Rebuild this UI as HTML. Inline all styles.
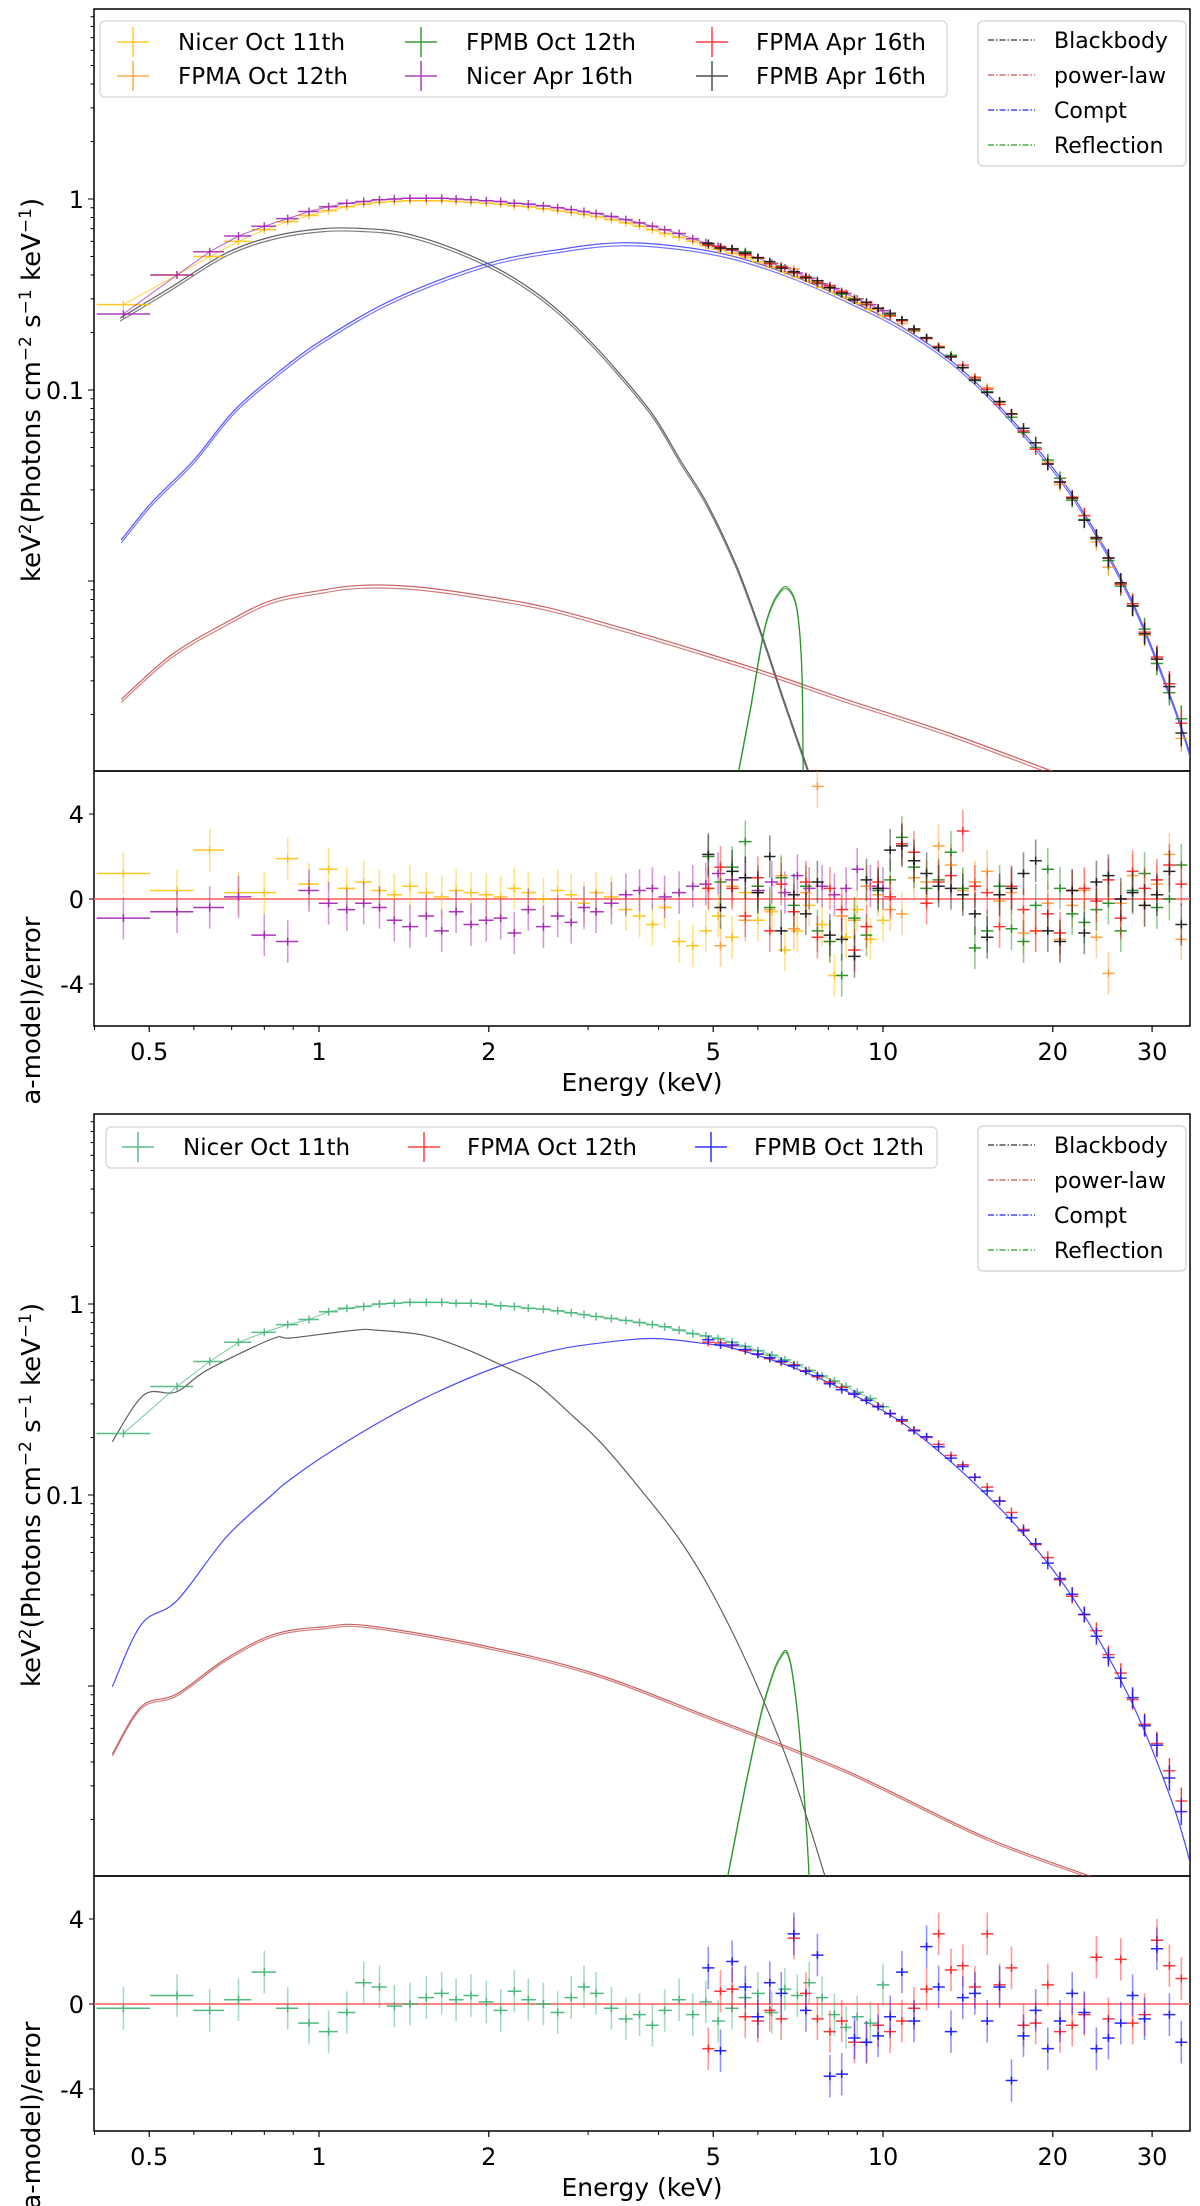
<!DOCTYPE html>
<html><head><meta charset="utf-8"><style>
html,body{margin:0;padding:0;background:#fff;}
svg{display:block;font-family:"DejaVu Sans","Liberation Sans",sans-serif;}
</style></head><body>
<svg id="fig" width="1200" height="2206" viewBox="0 0 1200 2206" xmlns="http://www.w3.org/2000/svg">
<defs>
<clipPath id="clipTopLabel"><rect x="0" y="0" width="90" height="1103"/></clipPath>
<clipPath id="clipMain0"><rect x="94" y="9" width="1096" height="762"/></clipPath>
<clipPath id="clipRes0"><rect x="94" y="771" width="1096" height="255"/></clipPath>
<clipPath id="clipMain1"><rect x="94" y="1114" width="1096" height="762"/></clipPath>
<clipPath id="clipRes1"><rect x="94" y="1876" width="1096" height="255"/></clipPath>
</defs>
<g id="layer"></g>
</svg>
<script>
// ---------- shared energy grids ----------
const nicerE = [0.45,0.56,0.64,0.72,0.80,0.88,0.96,1.04,1.12,1.20,1.28,1.36,1.45,1.55,1.65,1.75,1.86,1.98,2.1,2.22,2.35,2.5,2.65,2.8,2.95,3.1,3.3,3.5,3.7,3.9,4.1,4.35,4.6,4.85,5.1,5.4,5.7,6.0,6.35,6.7,7.05,7.4,7.8,8.2,8.6,9.0,9.5,10.0];
const nuE = [4.9,5.15,5.4,5.7,6.0,6.3,6.6,6.95,7.3,7.65,8.05,8.45,8.9,9.35,9.8,10.3,10.8,11.35,11.95,12.55,13.2,13.85,14.55,15.3,16.1,16.9,17.75,18.65,19.6,20.6,21.65,22.75,23.9,25.1,26.4,27.7,29.1,30.6,32.2,33.8];

// ---------- top figure: data ----------
const topNicerOctV = [0.28,0.40,0.50,0.60,0.69,0.76,0.82,0.87,0.91,0.94,0.96,0.97,0.98,0.98,0.98,0.97,0.96,0.95,0.94,0.92,0.91,0.89,0.87,0.85,0.83,0.81,0.78,0.75,0.72,0.69,0.66,0.63,0.60,0.57,0.545,0.52,0.495,0.47,0.44,0.415,0.39,0.37,0.345,0.325,0.305,0.285,0.265,0.245];
const topNicerAprV = [0.25,0.40,0.53,0.64,0.72,0.79,0.86,0.91,0.95,0.97,0.99,1.0,1.01,1.01,1.01,1.0,0.99,0.98,0.97,0.95,0.94,0.92,0.90,0.88,0.86,0.84,0.81,0.78,0.75,0.72,0.69,0.66,0.62,0.59,0.565,0.54,0.515,0.49,0.46,0.435,0.41,0.385,0.36,0.34,0.32,0.30,0.28,0.26];
const topFpmaOctV = [0.575,0.545,0.545,0.51,0.49,0.462,0.445,0.43,0.385,0.372,0.345,0.328,0.302,0.287,0.266,0.243,0.223,0.203,0.187,0.17,0.15,0.131,0.117,0.103,0.086,0.075,0.06,0.049,0.042,0.032,0.027,0.022,0.016,0.0118,0.0097,0.0076,0.0052,0.0039,0.0029,0.0015];
const topFpmbOctV = [0.585,0.56,0.55,0.53,0.492,0.46,0.445,0.412,0.392,0.362,0.343,0.318,0.3,0.28,0.267,0.248,0.232,0.205,0.186,0.167,0.152,0.131,0.112,0.098,0.087,0.072,0.06,0.05,0.043,0.0345,0.0265,0.021,0.0166,0.0128,0.0094,0.0074,0.0056,0.0037,0.0026,0.0019];
const topFpmaAprV = [0.572,0.562,0.542,0.51,0.494,0.458,0.442,0.412,0.393,0.364,0.352,0.328,0.297,0.281,0.268,0.245,0.23,0.207,0.186,0.168,0.149,0.135,0.116,0.101,0.084,0.075,0.061,0.049,0.041,0.033,0.0275,0.022,0.0168,0.0132,0.0096,0.0076,0.0054,0.004,0.0029,0.0018];
const topFpmbAprV = [0.585,0.553,0.548,0.52,0.492,0.47,0.435,0.416,0.387,0.373,0.344,0.322,0.296,0.288,0.268,0.252,0.233,0.209,0.188,0.167,0.149,0.131,0.113,0.097,0.087,0.075,0.063,0.053,0.041,0.033,0.0272,0.0208,0.0169,0.0132,0.0098,0.0074,0.0053,0.0039,0.0028,0.0016];
// residuals (top)
const topNicerOctR = [1.2,0.4,2.3,0.3,0.3,1.9,0.7,1.4,0.5,0.8,0.4,0.2,0.6,0.3,0.1,0.4,0.3,0.2,0.1,0.5,0.3,0.0,0.4,0.2,-0.2,0.3,0.1,-0.5,-0.8,-1.2,-0.4,-2.0,-2.2,-1.5,-0.8,-1.8,0.3,-1.0,-0.6,-2.4,-1.5,-0.3,-1.2,-3.6,-1.8,-0.5,-1.9,-1.0];
const topNicerAprR = [-0.9,-0.6,-0.4,0.1,-1.7,-2.0,0.4,-0.2,-0.5,-0.2,-0.4,-1.0,-1.3,-0.8,-1.5,-0.6,-1.2,-1.0,-0.9,-1.6,-0.5,-1.3,-0.8,-1.1,-0.4,-0.6,-0.2,0.2,0.4,0.5,0.1,0.3,0.6,0.7,1.2,0.9,1.0,0.4,0.8,0.3,1.1,0.5,0.6,0.2,0.5,1.4,0.6,0.5];
const topFpmaOctR = [0.5,-2.2,0.6,-1.0,0.3,-0.5,1.1,-1.4,0.3,5.3,-2.0,-0.8,-1.0,0.6,0.2,-0.5,-0.7,1.0,0.8,2.5,1.6,0.4,0.8,1.3,-0.1,0.3,-1.6,-1.5,-0.2,-1.9,-0.3,0.4,-1.8,-3.5,-0.2,1.1,-0.3,0.7,2.1,-1.9];
const topFpmbOctR = [2.0,0.8,1.5,2.7,0.6,-0.4,1.0,-0.3,0.6,-1.5,-2.0,-3.6,-0.9,-1.7,0.4,0.9,2.9,1.5,0.5,0.9,2.2,0.5,-2.3,-1.5,0.6,-1.4,-2.0,-0.3,1.4,0.5,-0.7,-1.1,-0.5,-0.2,-1.5,0.4,1.2,-0.4,0.0,1.6];
const topFpmaAprR = [0.5,1.5,0.5,-0.8,1.0,-1.5,0.7,-0.6,0.8,-1.8,0.5,-0.5,-2.4,-1.3,0.8,0.1,2.6,2.2,-0.2,0.8,1.1,3.2,0.6,0.3,-1.3,0.6,-0.5,-1.5,-0.7,-1.6,0.4,0.5,-0.1,0.9,-0.9,1.3,0.5,0.9,1.6,0.7];
const topFpmbAprR = [2.1,-0.4,1.3,1.0,0.3,2.0,-1.5,0.2,-0.7,0.8,-1.7,-1.9,-2.7,0.9,0.5,2.3,2.5,1.8,1.2,0.6,0.5,0.2,-0.7,-1.8,0.2,0.5,1.2,1.8,-1.5,-2.0,0.4,-1.6,0.8,1.1,0.0,0.3,-0.3,0.2,1.3,-1.2];
// models (top)
const topBbE = [0.444,0.542,0.684,0.835,1.02,1.2,1.39,1.65,1.99,2.3,2.62,3.0,3.37,3.9,4.37,4.87,5.5,6.12,6.7,7.37];
const topBbV = [0.238,0.34,0.52,0.64,0.70,0.70,0.67,0.58,0.46,0.36,0.27,0.185,0.127,0.075,0.043,0.0256,0.012,0.0051,0.0023,0.00102];
const topComptE = [0.446,0.504,0.60,0.707,0.856,1.02,1.36,1.99,2.73,3.43,4.33,5.44,6.86,8.6,10.9,13.7,17.3,21.7,27.3,32.5,35.5];
const topComptV = [0.0164,0.0256,0.043,0.078,0.127,0.185,0.30,0.46,0.55,0.59,0.565,0.50,0.40,0.30,0.21,0.13,0.065,0.028,0.0085,0.0024,0.0011];
const topPlE = [0.446,0.547,0.687,0.822,1.0,1.19,1.5,2.04,2.57,3.5,4.85,6.48,8.6,13.1,20.5];
const topPlV = [0.0024,0.0041,0.0061,0.0079,0.0089,0.0095,0.0093,0.0082,0.0072,0.0056,0.0042,0.0032,0.0024,0.0016,0.00098];
const topReflE = [5.5,5.81,6.12,6.30,6.5,6.75,7.03,7.18,7.22];
const topReflV = [0.0009,0.0021,0.0051,0.007,0.0085,0.0093,0.0073,0.0034,0.0009];

// ---------- bottom figure: data ----------
const botNicerV = [0.21,0.37,0.50,0.63,0.71,0.78,0.83,0.91,0.95,0.97,1.0,1.01,1.02,1.02,1.02,1.01,1.01,1.0,0.98,0.97,0.95,0.94,0.92,0.90,0.88,0.86,0.84,0.82,0.80,0.78,0.76,0.73,0.70,0.68,0.66,0.63,0.60,0.57,0.54,0.51,0.48,0.45,0.42,0.395,0.37,0.345,0.32,0.29];
const botFpmaV = [0.63,0.625,0.605,0.57,0.545,0.518,0.497,0.48,0.447,0.416,0.39,0.366,0.338,0.314,0.292,0.266,0.243,0.219,0.2,0.184,0.161,0.144,0.124,0.11,0.093,0.081,0.066,0.055,0.047,0.036,0.0295,0.0236,0.0195,0.0146,0.0117,0.0085,0.0063,0.005,0.0036,0.0025];
const botFpmbV = [0.65,0.61,0.61,0.578,0.547,0.523,0.502,0.476,0.444,0.422,0.382,0.356,0.338,0.313,0.29,0.267,0.248,0.217,0.202,0.179,0.156,0.141,0.124,0.105,0.093,0.076,0.065,0.0555,0.044,0.0365,0.0302,0.0237,0.0182,0.0141,0.011,0.0087,0.0062,0.0049,0.0033,0.0022];
const botNicerR = [-0.2,0.4,-0.3,0.2,1.5,-0.2,-0.9,-1.3,-0.4,1.0,0.8,-0.1,0.0,0.3,0.5,0.2,0.4,0.1,-0.3,0.6,0.2,0.0,-0.4,0.3,0.8,0.5,-0.2,-0.7,-0.5,-1.0,-0.3,0.2,-0.5,0.1,-0.8,-0.2,0.3,0.5,-0.4,0.7,0.4,1.0,0.3,-0.5,-1.1,-0.6,-0.9,0.9];
const botFpmaR = [-2.1,0.6,0.7,-0.6,-0.8,-0.3,-0.7,3.1,0.5,-0.7,-1.3,-0.8,-1.8,-1.8,-1.0,-1.3,-0.8,-0.2,0.7,3.3,1.6,1.8,0.8,3.3,0.9,1.7,-1.0,-0.9,0.9,-1.3,-1.0,-0.5,2.2,-0.7,2.1,-0.9,-0.5,3.0,1.8,1.2];
const botFpmbR = [1.7,-2.2,2.0,0.8,-0.6,1.0,0.5,3.3,-0.3,2.3,-3.4,-3.3,-1.6,-1.8,-1.5,-0.6,1.5,-0.8,2.7,0.8,-1.3,0.3,0.5,-0.8,0.8,-3.6,-1.5,-0.3,-2.1,-0.8,0.5,-0.4,-2.1,-1.6,-0.9,0.4,-0.7,2.6,-0.5,-1.8];
const botBbE = [0.43,0.489,0.558,0.633,0.825,0.892,1.16,1.26,1.52,1.77,2.07,2.42,2.83,3.15,3.6,4.33,5.0,5.9,6.9,7.9];
const botBbV = [0.19,0.334,0.346,0.45,0.656,0.664,0.73,0.73,0.69,0.60,0.49,0.385,0.256,0.19,0.12,0.06,0.03,0.011,0.0035,0.001];
const botComptE = [0.43,0.484,0.56,0.684,0.825,0.877,1.02,1.3,1.6,2.07,2.6,3.15,3.9,4.85,5.44,6.86,8.6,10.9,13.7,17.3,21.7,27.3,32.5,35.3];
const botComptV = [0.0099,0.021,0.028,0.06,0.10,0.117,0.16,0.247,0.34,0.468,0.57,0.625,0.66,0.62,0.585,0.47,0.35,0.235,0.135,0.068,0.029,0.0088,0.0025,0.0011];
const botPlE = [0.43,0.484,0.56,0.684,0.835,1.02,1.22,1.93,3.06,4.85,8.6,15.3,25.0];
const botPlV = [0.0044,0.0078,0.0091,0.0139,0.0187,0.0204,0.0207,0.0164,0.0117,0.0070,0.0036,0.0016,0.00094];
const botReflE = [5.3,5.7,6.1,6.4,6.6,6.75,6.9,7.1,7.3,7.4];
const botReflV = [0.001,0.003,0.0075,0.012,0.0145,0.0152,0.012,0.006,0.002,0.001];

// tick labels
const xTickVals = [0.5,1,2,5,10,20,30];
const xTickLabels = ["0.5","1","2","5","10","20","30"];
const xMinorVals = [0.4,0.6,0.7,0.8,0.9,3,4,6,7,8,9];
const yTickVals = [1,0.1];
const yTickLabels = ["1","0.1"];
const rTickVals = [4,0,-4];
const rTickLabels = ["4","0","-4"];

// ---------- axis functions ----------
const L = 94, R = 1190;
function xs(E){ return 319 + 564*Math.log10(E); }
function ym(v, off){ return off + 199 - 191*Math.log10(v); }
function yr(r, off){ return off + 899 - 21.25*r; }

const NS = "http://www.w3.org/2000/svg";
const layer = document.getElementById('layer');
function el(tag, attrs, parent){
  const e = document.createElementNS(NS, tag);
  for (const k in attrs) e.setAttribute(k, attrs[k]);
  (parent||layer).appendChild(e);
  return e;
}
function bounds(E, i){
  const lo = i>0 ? Math.sqrt(E[i-1]*E[i]) : E[i]*E[i]/Math.sqrt(E[i]*E[i+1]);
  const hi = i<E.length-1 ? Math.sqrt(E[i]*E[i+1]) : E[i]*E[i]/Math.sqrt(E[i-1]*E[i]);
  return [lo, hi];
}
function smoothPath(P){
  let d = `M${P[0][0].toFixed(1)},${P[0][1].toFixed(1)}`;
  for (let i=0;i<P.length-1;i++){
    const p0 = P[Math.max(0,i-1)], p1 = P[i], p2 = P[i+1], p3 = P[Math.min(P.length-1,i+2)];
    const c1x = p1[0]+(p2[0]-p0[0])/6, c1y = p1[1]+(p2[1]-p0[1])/6;
    const c2x = p2[0]-(p3[0]-p1[0])/6, c2y = p2[1]-(p3[1]-p1[1])/6;
    d += `C${c1x.toFixed(1)},${c1y.toFixed(1)} ${c2x.toFixed(1)},${c2y.toFixed(1)} ${p2[0].toFixed(1)},${p2[1].toFixed(1)}`;
  }
  return d;
}
function drawModel(g, E, V, off, color, name, shift){
  const P = E.map((e,i)=> [xs(e), ym(V[i],off)]);
  const d = smoothPath(P);
  const p = el('path', {d: d, fill:'none', stroke: color, 'stroke-width': 1.2, opacity: 0.85}, g);
  
  
  if (shift){
    const p2 = el('path', {d: d, fill:'none', stroke: color, 'stroke-width': 1.2, opacity: 0.7, transform:'translate(0,'+shift+')'}, g);
    
    
  }
}
function drawData(g, E, V, off, color, name, connect){
  const grp = el('g', {}, g);
  
  
  if (connect){
    const pts = E.map((e,i)=> xs(e).toFixed(1)+','+ym(V[i],off).toFixed(1)).join(' ');
    el('polyline', {points: pts, fill:'none', stroke: color, 'stroke-width': 1, opacity: 0.7}, grp);
  }
  E.forEach((e,i)=>{
    const [lo,hi] = bounds(E,i);
    const y = ym(V[i],off), x = xs(e);
    const ev = 4 + (e>15 ? (e-15)*0.5 : 0);
    const c = el('path', {d:`M${xs(lo).toFixed(1)},${y.toFixed(1)}H${xs(hi).toFixed(1)}M${x.toFixed(1)},${(y-ev).toFixed(1)}V${(y+ev).toFixed(1)}`, stroke: color, 'stroke-width': 1.5, fill:'none', opacity: 0.85}, grp);
    
    
  });
}
function drawRes(g, E, Rv, off, color, name){
  const grp = el('g', {}, g);
  
  
  E.forEach((e,i)=>{
    const [lo,hi] = bounds(E,i);
    const y = yr(Rv[i],off), x = xs(e);
    el('path', {d:`M${x.toFixed(1)},${yr(Rv[i]+1,off).toFixed(1)}V${yr(Rv[i]-1,off).toFixed(1)}`, stroke: color, 'stroke-width': 1.6, opacity: 0.45}, grp);
    const c = el('path', {d:`M${xs(lo).toFixed(1)},${y.toFixed(1)}H${xs(hi).toFixed(1)}M${x.toFixed(1)},${(y-4).toFixed(1)}V${(y+4).toFixed(1)}`, stroke: color, 'stroke-width': 1.5, opacity: 0.9}, grp);
    
    
  });
}
function axes(off, idx){
  const g = el('g', {});
  
  
  const fm = el('rect', {x:L, y:off+9, width:R-L, height:762, fill:'none', stroke:'#000', 'stroke-width':1.5}, g);
  
  
  const fr = el('rect', {x:L, y:off+771, width:R-L, height:255, fill:'none', stroke:'#000', 'stroke-width':1.5}, g);
  
  
  xTickVals.forEach((v,i)=>{
    el('line', {x1:xs(v), x2:xs(v), y1:off+1026, y2:off+1032, stroke:'#000', 'stroke-width':1.2}, g);
    const t = el('text', {x:xs(v), y:off+1060, 'font-size':24, 'text-anchor':'middle', fill:'#000'}, g);
    t.textContent = xTickLabels[i];
    
    
  });
  xMinorVals.forEach(v=>{
    el('line', {x1:xs(v), x2:xs(v), y1:off+1026, y2:off+1030, stroke:'#000', 'stroke-width':1}, g);
  });
  for (let d=-3; d<=0; d++){
    for (let k=1; k<=9; k++){
      const v = k*Math.pow(10,d);
      const y = ym(v,off);
      if (y < off+9 || y > off+771) continue;
      const major = (k===1);
      el('line', {x1:L-(major?6:3.5), x2:L, y1:y, y2:y, stroke:'#000', 'stroke-width':1}, g);
    }
  }
  yTickVals.forEach((v,i)=>{
    const t = el('text', {x:L-10, y:ym(v,off)+9, 'font-size':24, 'text-anchor':'end', fill:'#000'}, g);
    t.textContent = yTickLabels[i];
    
    
  });
  rTickVals.forEach((v,i)=>{
    el('line', {x1:L-5, x2:L, y1:yr(v,off), y2:yr(v,off), stroke:'#000', 'stroke-width':1}, g);
    const t = el('text', {x:L-10, y:yr(v,off)+9, 'font-size':24, 'text-anchor':'end', fill:'#000'}, g);
    t.textContent = rTickLabels[i];
    
    
  });
  const z = el('line', {x1:L, x2:R, y1:yr(0,off), y2:yr(0,off), stroke:'#ff7070', 'stroke-width':1.8}, g);
  
  
  const xl = el('text', {x:642, y:off+1091, 'font-size':25, 'text-anchor':'middle', fill:'#000'}, g);
  xl.textContent = 'Energy (keV)';
  
  
  const yl = el('text', {transform:`translate(40,${off+390}) rotate(-90)`, 'font-size':26, 'text-anchor':'middle', fill:'#000'}, g);
  yl.innerHTML = 'keV<tspan dy="-9" font-size="17">2</tspan><tspan dy="9">(Photons cm</tspan><tspan dy="-9" font-size="17">−2</tspan><tspan dy="9"> s</tspan><tspan dy="-9" font-size="17">−1</tspan><tspan dy="9"> keV</tspan><tspan dy="-9" font-size="17">−1</tspan><tspan dy="9">)</tspan>';
  
  
  const rg = el('g', idx===0 ? {'clip-path':'url(#clipTopLabel)'} : {}, g);
  const rl = el('text', {transform:`translate(40,${off+1037}) rotate(-90)`, 'font-size':26, 'text-anchor':'middle', fill:'#000'}, rg);
  rl.textContent = '(data-model)/error';
  
  
}
function legendData(off, x, y, w, h, entries){
  const g = el('g', {});
  
  
  el('rect', {x:x, y:off+y, width:w, height:h, rx:5, fill:'#fff', stroke:'#d8d8d8', 'stroke-width':1.5, opacity:0.9}, g);
  entries.forEach(en=>{
    const eg = el('g', {}, g);
    
    
    const cy = off+en[2];
    el('path', {d:`M${en[1]-16},${cy}H${en[1]+16}M${en[1]},${cy-15}V${cy+15}`, stroke:en[3], 'stroke-width':1.5, opacity:0.85}, eg);
    const t = el('text', {x:en[4], y:cy+8, 'font-size':23, fill:'#000'}, eg);
    t.textContent = en[0];
  });
}
function legendModel(off){
  const g = el('g', {});
  
  
  el('rect', {x:978, y:off+21, width:208, height:145, rx:5, fill:'#fff', stroke:'#d8d8d8', 'stroke-width':1.5}, g);
  const items = [['Blackbody','#333'],['power-law','#c85050'],['Compt','#2020ff'],['Reflection','#2a9a2a']];
  items.forEach((it,i)=>{
    const eg = el('g', {}, g);
    
    
    const cy = off+40+i*35;
    el('line', {x1:988, x2:1035, y1:cy, y2:cy, stroke:it[1], 'stroke-width':1.3, 'stroke-dasharray':'6,2,1.5,2'}, eg);
    const t = el('text', {x:1054, y:cy+8, 'font-size':22, fill:'#000'}, eg);
    t.textContent = it[0];
  });
}

// ---------- TOP FIGURE ----------
(function(){
  const off = 0;
  axes(off, 0);
  const gm = el('g', {'clip-path':'url(#clipMain0)'});
  
  
  drawModel(gm, topBbE, topBbV, off, '#444', 'blackbody-model', 3);
  drawModel(gm, topComptE, topComptV, off, '#3a3aff', 'compt-model', 3);
  drawModel(gm, topPlE, topPlV, off, '#c04848', 'power-law-model', 3);
  drawModel(gm, topReflE, topReflV, off, '#1f8f1f', 'reflection-model', 2);
  drawData(gm, nicerE, topNicerOctV, off, '#ffc107', 'nicer-oct11', true);
  drawData(gm, nicerE, topNicerAprV, off, '#a020b0', 'nicer-apr16', true);
  drawData(gm, nuE, topFpmaOctV, off, '#ff9a30', 'fpma-oct12', false);
  drawData(gm, nuE, topFpmbOctV, off, '#1a8a1a', 'fpmb-oct12', false);
  drawData(gm, nuE, topFpmaAprV, off, '#ff2020', 'fpma-apr16', false);
  drawData(gm, nuE, topFpmbAprV, off, '#111', 'fpmb-apr16', false);
  const gr = el('g', {'clip-path':'url(#clipRes0)'});
  
  
  drawRes(gr, nicerE, topNicerOctR, off, '#ffc107', 'nicer-oct11-residuals');
  drawRes(gr, nicerE, topNicerAprR, off, '#a020b0', 'nicer-apr16-residuals');
  drawRes(gr, nuE, topFpmaOctR, off, '#ff9a30', 'fpma-oct12-residuals');
  drawRes(gr, nuE, topFpmbOctR, off, '#1a8a1a', 'fpmb-oct12-residuals');
  drawRes(gr, nuE, topFpmaAprR, off, '#ff2020', 'fpma-apr16-residuals');
  drawRes(gr, nuE, topFpmbAprR, off, '#111', 'fpmb-apr16-residuals');
  legendData(off, 100, 21, 847, 76, [
    ['Nicer Oct 11th',133,42,'#ffc107',178],
    ['FPMA Oct 12th',133,76,'#ff9a30',178],
    ['FPMB Oct 12th',421,42,'#1a8a1a',466],
    ['Nicer Apr 16th',421,76,'#a020b0',466],
    ['FPMA  Apr 16th',712,42,'#ff2020',756],
    ['FPMB Apr 16th',712,76,'#333',756]
  ]);
  legendModel(off);
})();

// ---------- BOTTOM FIGURE ----------
(function(){
  const off = 1105;
  axes(off, 1);
  const gm = el('g', {'clip-path':'url(#clipMain1)'});
  
  
  drawModel(gm, botBbE, botBbV, off, '#444', 'blackbody-model', 0);
  drawModel(gm, botComptE, botComptV, off, '#2a2aff', 'compt-model', 0);
  drawModel(gm, botPlE, botPlV, off, '#c04848', 'power-law-model', 2);
  drawModel(gm, botReflE, botReflV, off, '#1f8f1f', 'reflection-model', 2);
  drawData(gm, nicerE, botNicerV, off, '#3cb371', 'nicer-oct11', true);
  drawData(gm, nuE, botFpmaV, off, '#ff2020', 'fpma-oct12', false);
  drawData(gm, nuE, botFpmbV, off, '#1010ff', 'fpmb-oct12', false);
  const gr = el('g', {'clip-path':'url(#clipRes1)'});
  
  
  drawRes(gr, nicerE, botNicerR, off, '#3cb371', 'nicer-oct11-residuals');
  drawRes(gr, nuE, botFpmaR, off, '#ff2020', 'fpma-oct12-residuals');
  drawRes(gr, nuE, botFpmbR, off, '#1010ff', 'fpmb-oct12-residuals');
  legendData(off, 106, 22, 831, 41, [
    ['Nicer Oct 11th',138,42,'#3cb371',183],
    ['FPMA Oct 12th',424,42,'#ff2020',467],
    ['FPMB Oct 12th',711,42,'#1010ff',754]
  ]);
  legendModel(off);
})();
</script>
</body></html>
